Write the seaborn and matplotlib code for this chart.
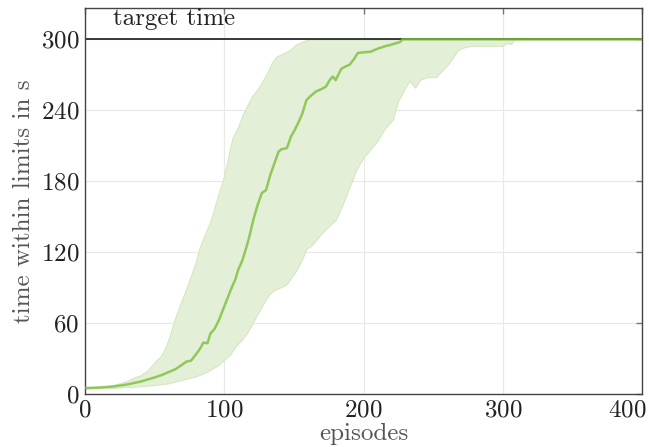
import numpy as np
import pandas as pd
import matplotlib
matplotlib.use("Agg")
import matplotlib.pyplot as plt
import matplotlib.transforms as mtransforms
import seaborn as sns

# Mean survival time per episode (seconds)
mean_episodes = [0, 10, 20, 30, 40, 50, 55, 60, 65, 70, 73, 76, 80, 83, 85, 88, 90, 93,
                 96, 99, 102, 105, 108, 110, 113, 116, 118, 121, 124, 127, 130, 133,
                 136, 139, 141, 145, 148, 150, 153, 156, 159, 162, 166, 170, 173, 176,
                 178, 180, 184, 187, 190, 193, 196, 200, 205, 210, 215, 220, 224, 226,
                 228, 400]
mean_time = [5, 5.5, 6.3, 8, 10.5, 14, 16, 18.5, 21, 25, 27.5, 28, 34, 39, 43.5, 43, 51,
             55, 62, 71, 80, 89, 97, 105, 113, 124.5, 133, 148, 160, 170, 172.5, 185,
             195, 205, 207, 208, 218, 222, 229, 237, 248.5, 252, 256, 258, 260, 266,
             268.5, 265.5, 275, 277, 278.5, 283, 288.5, 289, 289.5, 292, 294, 295.5,
             297, 297.5, 300, 300]

# Upper envelope of the runs
upper_episodes = [0, 10, 20, 30, 35, 40, 45, 50, 55, 58, 61, 64, 67, 70, 73, 76, 79, 82,
                  86, 90, 93, 96, 99, 102, 104, 106, 110, 113, 116, 120, 124, 128, 131,
                  134, 137, 140, 144, 148, 152, 156, 160, 400]
upper_time = [5.5, 6, 7.5, 11, 14, 16, 20, 27, 33, 40, 50, 62, 72, 81, 90, 100, 110, 123,
              135, 146, 158, 170, 181, 196, 207, 217, 226, 236, 243, 252, 258, 266, 272,
              280, 285, 287, 289, 292, 296, 298, 300, 300]

# Lower envelope of the runs
lower_episodes = [0, 10, 20, 30, 40, 50, 60, 70, 80, 88, 95, 100, 104, 108, 112, 116, 120,
                  124, 128, 132, 136, 140, 144, 148, 152, 156, 159, 162, 166, 170, 175,
                  180, 185, 190, 195, 200, 205, 210, 215, 221, 225, 229, 233, 237, 241,
                  246, 252, 256, 260, 264, 268, 272, 277, 290, 300, 303, 306, 308, 400]
lower_time = [4.5, 4.8, 5.2, 5.8, 6.5, 7.5, 9, 12, 15, 19, 24, 29, 33, 40, 45, 51, 59, 68,
              76, 84, 88, 90, 92, 98, 105, 114, 123, 125, 130, 136, 142, 147, 160, 175,
              190, 200, 207, 214, 224, 232, 248, 257, 265, 259, 266, 268, 268, 273, 278,
              284, 291, 293, 294.5, 294.5, 294.5, 297, 296, 300, 300]

target_time = 300
x_ticks = [0, 100, 200, 300, 400]
y_ticks = [0, 60, 120, 180, 240, 300]

sns.set_theme(style="whitegrid")
plt.rcParams.update({
    "font.family": ["cmr10", "DejaVu Serif"],
    "mathtext.fontset": "cm",
    "axes.formatter.use_mathtext": True,
    "font.size": 18,
})

green = "#7dbf3c"
fill_green = "#e3efd6"

fig = plt.figure(figsize=(6.49, 4.47), dpi=100)
ax = fig.add_axes([85 / 649, 1 - 394 / 447, (642 - 85) / 649, (394 - 8) / 447])

# Shaded spread between lower and upper envelope on a shared episode grid
grid = np.union1d(upper_episodes, lower_episodes)
up = np.interp(grid, upper_episodes, upper_time)
lo = np.interp(grid, lower_episodes, lower_time)
ax.fill_between(grid, lo, up, color=fill_green, edgecolor="#cfe4b8", linewidth=0.6, zorder=1)

ax.axhline(target_time, color="#1a1a1a", linewidth=1.2, zorder=2)

df = pd.DataFrame({"episodes": mean_episodes, "time": mean_time})
sns.lineplot(data=df, x="episodes", y="time", ax=ax, color=green, linewidth=1.8,
             alpha=0.8, zorder=3)

ax.text(20, 317, "target time", fontsize=18, color="#222222", va="center", ha="left")

ax.set_xlim(0, 400)
ax.set_ylim(0, 326.5)
ax.set_xticks(x_ticks)
ax.set_yticks(y_ticks)
ax.set_xlabel("episodes", color="#555555", fontsize=18, labelpad=1)
ax.set_ylabel("time within limits in s", color="#555555", fontsize=18, labelpad=4)

ax.grid(True, color="#e8e8e8", linewidth=0.8)
for s in ax.spines.values():
    s.set_color("#444444")
    s.set_linewidth(1.0)
    s.set_visible(True)
ax.tick_params(direction="in", length=4, width=1, color="#777777",
               top=True, right=True, labelcolor="#222222", labelsize=18, pad=4)

# Keep the last x tick label inside the figure edge
fig.canvas.draw()
last = ax.get_xticklabels()[-1]
last.set_horizontalalignment("right")
last.set_transform(last.get_transform() +
                   mtransforms.ScaledTranslation(5 / 100, 0, fig.dpi_scale_trans))

fig.savefig("out.png", dpi=100)
